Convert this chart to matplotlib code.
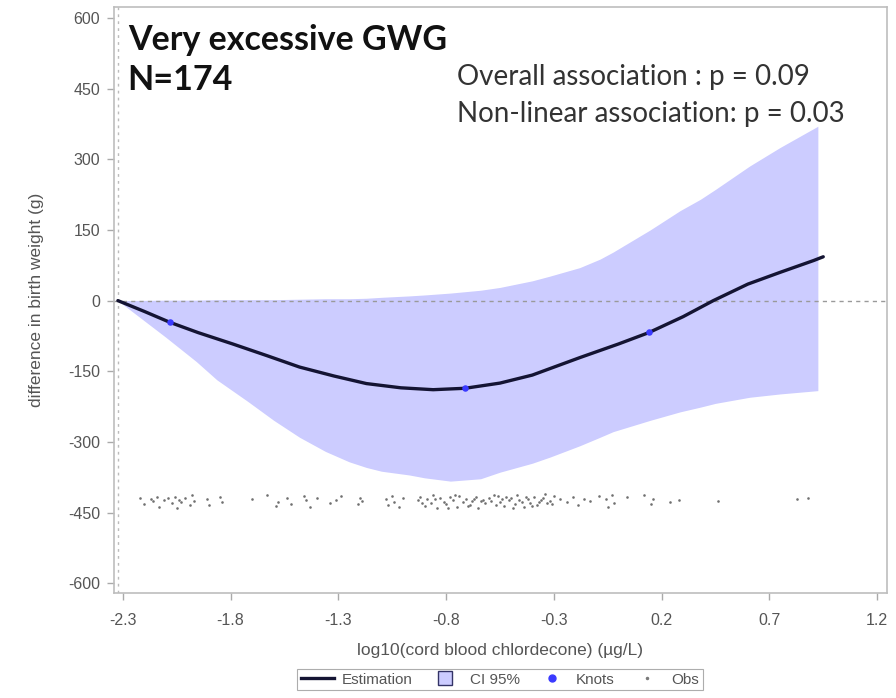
"""Spline estimate of birth weight difference vs cord blood chlordecone."""

import matplotlib
matplotlib.use("Agg")
import matplotlib.pyplot as plt
from matplotlib.lines import Line2D

# Curba estimata
curve_x = [-2.323, -2.20, -2.082, -1.95, -1.79, -1.63, -1.48, -1.32, -1.17, -1.01,
           -0.86, -0.712, -0.55, -0.40, -0.18, 0.00, 0.14, 0.30, 0.44, 0.60,
           0.75, 0.905, 0.95]
curve_y = [0, -23, -46, -68, -92, -117, -141, -160, -176, -185,
           -189, -186, -175, -158, -121, -92, -68, -34, 0, 35,
           60, 85, 93]

# Interval de incredere 95%
band_x = [-2.323, -2.10, -1.96, -1.864, -1.72, -1.60, -1.48, -1.36, -1.25, -1.17,
          -1.10, -0.97, -0.90, -0.78, -0.64, -0.55, -0.40, -0.318, -0.18, -0.086,
          -0.025, 0.147, 0.286, 0.38, 0.45, 0.597, 0.61, 0.75, 0.925]
band_lo = [0, -78, -129, -168, -214, -254, -290, -320, -342, -354,
           -362, -370, -376, -383, -378, -364, -345, -332, -308, -290,
           -278, -254, -236, -226, -218, -206, -205, -198, -191]
band_hi = [0, 1, 1, 2, 2, 2, 3, 4, 4, 5,
           7, 10, 12, 16, 22, 28, 42, 52, 70, 88,
           103, 150, 191, 215, 236, 282, 286, 325, 370]

# Noduri
knots_x = [-2.082, -0.712, 0.14]
knots_y = [-46, -186, -66]

# Observatii (banda de jos)
obs_x = [-2.22, -2.20, -2.17, -2.16, -2.14, -2.13, -2.11, -2.09, -2.07, -2.06,
         -2.05, -2.04, -2.03, -2.01, -1.99, -1.98, -1.97, -1.91, -1.90, -1.85,
         -1.84, -1.70, -1.63, -1.59, -1.58, -1.54, -1.52, -1.46, -1.45, -1.43,
         -1.40, -1.34, -1.31, -1.29, -1.21, -1.20, -1.19, -1.08, -1.07, -1.05,
         -1.04, -1.02, -1.00, -0.93, -0.92, -0.90, -0.89, -0.87, -0.86, -0.84,
         -0.83, -0.81, -0.80, -0.78, -0.77, -0.75, -0.74, -0.72, -0.71, -0.69,
         -0.68, -0.66, -0.65, -0.63, -0.62, -0.60, -0.59, -0.57, -0.56, -0.54,
         -0.53, -0.51, -0.50, -0.48, -0.47, -0.45, -0.44, -0.42, -0.41, -0.39,
         -0.38, -0.36, -0.35, -0.33, -0.32, -0.30, -0.91, -0.85, -0.79, -0.76,
         -0.70, -0.67, -0.64, -0.58, -0.55, -0.52, -0.49, -0.46, -0.43, -0.40,
         -0.37, -0.34, -0.31, -0.27, -0.24, -0.21, -0.19, -0.16, -0.13, -0.09,
         -0.06, -0.05, -0.03, -0.02, 0.04, 0.12, 0.15, 0.16, 0.24, 0.28,
         0.46, 0.83, 0.88]
obs_y = [-418, -432, -421, -426, -417, -438, -424, -419, -430, -416,
         -441, -422, -428, -418, -433, -412, -425, -420, -434, -416,
         -427, -421, -413, -436, -428, -419, -431, -415, -424, -437,
         -418, -429, -422, -414, -432, -419, -426, -420, -433, -415,
         -427, -438, -418, -424, -416, -435, -421, -429, -413, -440,
         -419, -427, -432, -417, -423, -437, -414, -428, -420, -433,
         -425, -416, -439, -422, -430, -418, -426, -434, -415, -421,
         -436, -424, -419, -431, -413, -427, -438, -420, -429, -416,
         -433, -422, -418, -430, -425, -414, -430, -421, -440, -412,
         -436, -421, -426, -413, -428, -417, -439, -422, -416, -435,
         -427, -411, -432, -421, -428, -417, -433, -420, -426, -415,
         -421, -437, -413, -429, -416, -413, -431, -420, -428, -424,
         -426, -421, -418]

x_ticks = [-2.3, -1.8, -1.3, -0.8, -0.3, 0.2, 0.7, 1.2]
y_ticks = [-600, -450, -300, -150, 0, 150, 300, 450, 600]

GRAY = "#9a9a9a"
TXT = "#555555"
BAND = "#ccccff"
LINE = "#141433"

plt.rcParams["font.family"] = ["Liberation Sans", "DejaVu Sans"]
plt.rcParams["axes.unicode_minus"] = False

fig = plt.figure(figsize=(8.96, 6.98), dpi=100)
ax = fig.add_axes([0.127, 0.150, 0.863, 0.840])

ax.fill_between(band_x, band_lo, band_hi, color=BAND, lw=0, zorder=1)
ax.axhline(0, color=GRAY, ls=(0, (3, 3)), lw=1.0, zorder=2)
ax.axvline(-2.323, color="#bbbbbb", ls=(0, (2, 3)), lw=1.0, zorder=2)
ax.plot(curve_x, curve_y, color=LINE, lw=2.4, zorder=3,
        solid_capstyle="round", solid_joinstyle="round")
ax.scatter(knots_x, knots_y, s=22, color="#3a3aff", zorder=4, lw=0)
ax.scatter(obs_x, obs_y, s=3.5, color="#707070", zorder=3, lw=0)

ax.set_xlim(-2.342, 1.246)
ax.set_ylim(-621, 623)
ax.set_xticks(x_ticks)
ax.set_xticklabels([f"{v:g}" for v in x_ticks])
ax.set_yticks(y_ticks)
for s in ax.spines.values():
    s.set_color("#bdbdbd")
    s.set_linewidth(1.2)
ax.tick_params(colors="#aaaaaa", labelcolor=TXT, labelsize=11.5, length=5, width=1)
ax.tick_params(axis="x", pad=9)
ax.tick_params(axis="y", pad=5)

ax.set_xlabel("log10(cord blood chlordecone) (\u00b5g/L)", color=TXT, fontsize=12.5,
              labelpad=11)
ax.set_ylabel("difference in birth weight (g)", color=TXT, fontsize=12.5, labelpad=17)

big = ["Lato", "DejaVu Sans"]
ax.text(0.018, 0.943, "Very excessive GWG", transform=ax.transAxes, fontsize=24.5,
        fontweight="bold", family=big, va="center", ha="left", color="#111111")
ax.text(0.018, 0.875, "N=174", transform=ax.transAxes, fontsize=24.5,
        fontweight="bold", family=big, va="center", ha="left", color="#111111")
ax.text(0.444, 0.881, "Overall association : p = 0.09", transform=ax.transAxes,
        fontsize=20, family=big, va="center", ha="left", color="#333333")
ax.text(0.444, 0.818, "Non-linear association: p = 0.03", transform=ax.transAxes,
        fontsize=20, family=big, va="center", ha="left", color="#333333")

handles = [
    Line2D([], [], color=LINE, lw=2.4),
    Line2D([], [], color="#333366", marker="s", ls="", markersize=10,
           markerfacecolor=BAND, markeredgewidth=1),
    Line2D([], [], color="#3a3aff", marker="o", ls="", markersize=5),
    Line2D([], [], color="#7a7a7a", marker="o", ls="", markersize=1.5),
]
leg = fig.legend(handles, ["Estimation", "CI 95%", "Knots", "Obs"], ncol=4,
                 loc="lower center", bbox_to_anchor=(0.558, 0.0), frameon=True,
                 fontsize=11, handlelength=2.2, columnspacing=1.0, handletextpad=0.5,
                 borderpad=0.25, fancybox=False, labelcolor=TXT)
leg.get_frame().set_edgecolor("#999999")
leg.get_frame().set_linewidth(0.8)

fig.savefig("out.png", dpi=100)
